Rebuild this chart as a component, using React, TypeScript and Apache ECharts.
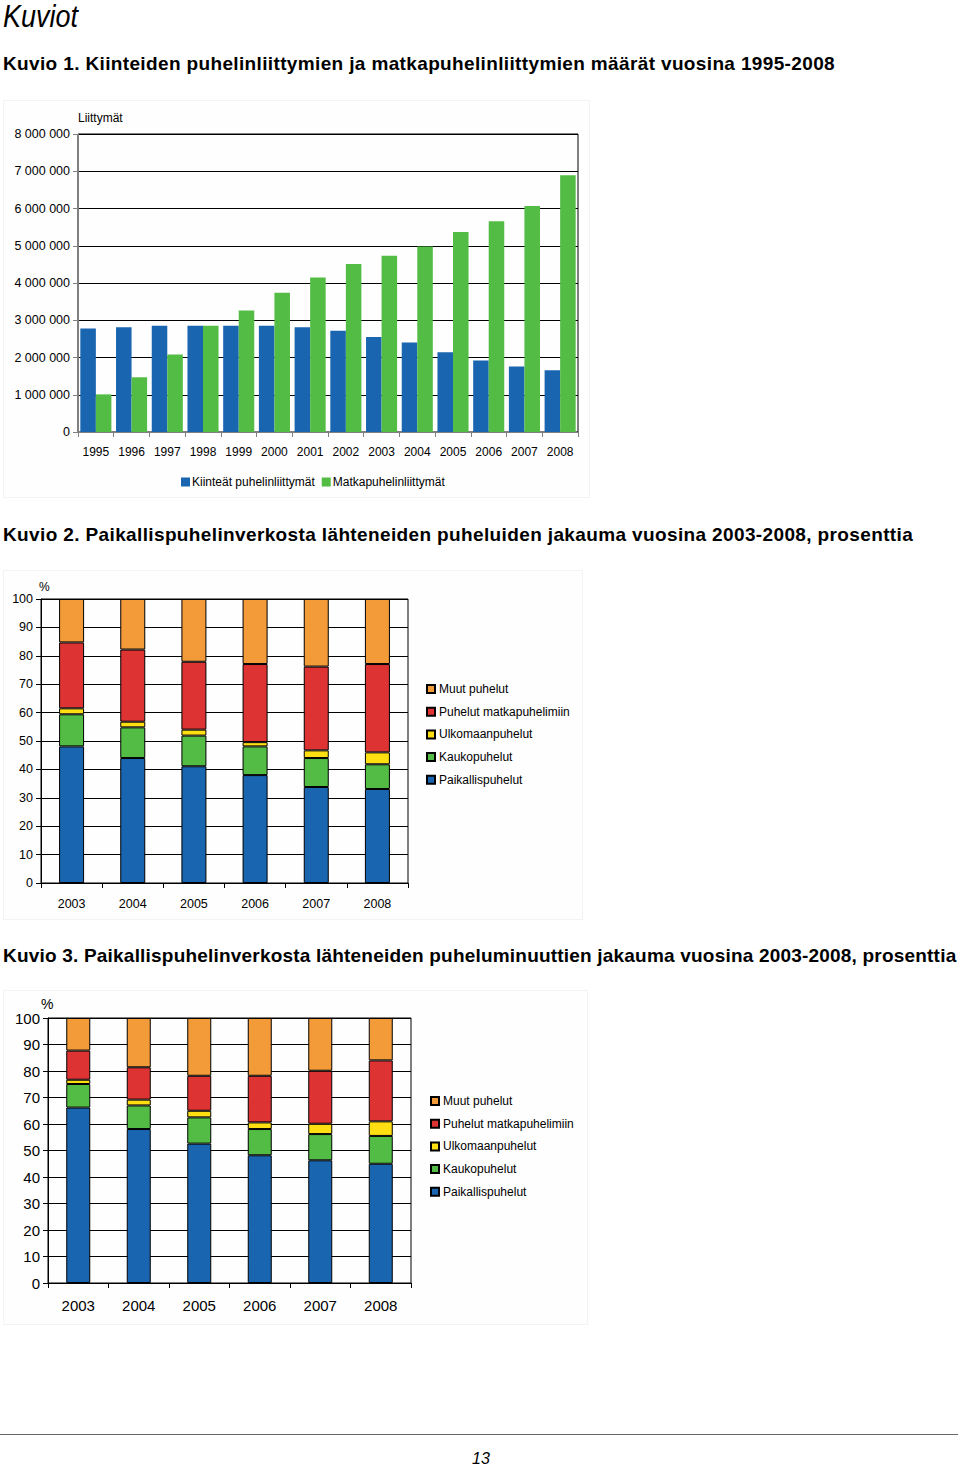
import React, { useEffect, useRef } from "react";
import * as echarts from "echarts";

const years1 = ["1995","1996","1997","1998","1999","2000","2001","2002","2003","2004","2005","2006","2007","2008"];
const fixedLines = [2780000,2810000,2850000,2850000,2850000,2850000,2810000,2720000,2550000,2400000,2140000,1920000,1760000,1660000];
const mobileLines = [1010000,1470000,2080000,2850000,3260000,3740000,4150000,4510000,4730000,4980000,5370000,5660000,6070000,6890000];
const legend1 = ["Kiinteät puhelinliittymät", "Matkapuhelinliittymät"];

const years2 = ["2003","2004","2005","2006","2007","2008"];
const seriesNames = ["Paikallispuhelut","Kaukopuhelut","Ulkomaanpuhelut","Puhelut matkapuhelimiin","Muut puhelut"];
// Kuvio 2: calls
const c2Local = [48.1,44.0,41.1,38.0,33.8,33.1];
const c2Long = [11.3,10.8,10.8,10.1,10.2,8.7];
const c2Intl = [2.1,2.0,2.1,1.5,2.7,4.2];
const c2Mobile = [23.2,25.4,23.9,27.5,29.5,31.1];
const c2Other = [15.3,17.8,22.1,22.9,23.8,22.9];
// Kuvio 3: minutes
const c3Local = [66.2,58.1,52.6,48.2,46.3,45.0];
const c3Long = [8.9,8.9,9.9,9.9,9.9,10.5];
const c3Intl = [1.6,2.2,2.5,2.5,3.9,5.5];
const c3Mobile = [11.0,12.2,13.2,17.6,20.0,23.0];
const c3Other = [12.3,18.6,21.8,21.8,19.9,16.0];

const BLUE = "#1a65b0";
const GREEN = "#53bc45";
const YELLOW = "#ffde12";
const RED = "#dd3333";
const ORANGE = "#f39b38";
const stackColors = [BLUE, GREEN, YELLOW, RED, ORANGE];

const FONT = "'Liberation Sans', Arial, sans-serif";

function fmtSpace(v: number) {
  return String(v).replace(/\B(?=(\d{3})+(?!\d))/g, " ");
}

function useChart(option: any) {
  const ref = useRef<HTMLDivElement>(null);
  useEffect(() => {
    if (!ref.current) return;
    const chart = echarts.init(ref.current, undefined, { renderer: "svg" });
    chart.setOption(option);
    return () => chart.dispose();
  }, []);
  return ref;
}

const option1 = {
  animation: false,
  textStyle: { fontFamily: FONT },
  grid: { left: 75, top: 34, right: 12, bottom: 66, show: true, borderColor: "#000", borderWidth: 1 },
  legend: {
    data: legend1,
    left: 173,
    top: 371,
    icon: "rect",
    itemWidth: 9,
    itemHeight: 9,
    itemGap: 7,
    textStyle: { fontSize: 12, color: "#000", fontFamily: FONT, padding: [0, 0, 0, -3] },
  },
  xAxis: {
    type: "category",
    data: years1,
    axisLine: { lineStyle: { color: "#808080", width: 1 } },
    axisTick: { show: true, length: 5, lineStyle: { color: "#808080" } },
    axisLabel: { color: "#000", fontSize: 12, margin: 14, fontFamily: FONT },
  },
  yAxis: {
    type: "value",
    min: 0,
    max: 8000000,
    interval: 1000000,
    name: "Liittymät",
    nameGap: 10,
    nameTextStyle: { align: "left", color: "#000", fontSize: 12, fontFamily: FONT },
    axisLine: { show: true, lineStyle: { color: "#808080" } },
    axisTick: { show: true, length: 5, lineStyle: { color: "#808080" } },
    axisLabel: { color: "#000", fontSize: 12.5, margin: 8, formatter: (v: number) => fmtSpace(v), fontFamily: FONT },
    splitLine: { lineStyle: { color: "#000", width: 1 } },
  },
  series: [
    { name: legend1[0], type: "bar", data: fixedLines, itemStyle: { color: BLUE }, barGap: "0%", barCategoryGap: "13%" },
    { name: legend1[1], type: "bar", data: mobileLines, itemStyle: { color: GREEN }, barGap: "0%", barCategoryGap: "13%" },
  ],
};

function stackedOption(
  data: number[][],
  opts: { grid: any; labelSize: number; legendLeft: number; legendTop: number; barWidth: number; labelMargin: number; nameSize: number; nameGap: number; namePad: number }
) {
  return {
    animation: false,
    textStyle: { fontFamily: FONT },
    grid: { ...opts.grid, show: true, borderColor: "#000", borderWidth: 1 },
    legend: {
      orient: "vertical",
      data: [...seriesNames].reverse(),
      left: opts.legendLeft,
      top: opts.legendTop,
      icon: "rect",
      itemWidth: 8,
      itemHeight: 8,
      itemGap: 10.7,
      textStyle: { fontSize: 12, color: "#000", fontFamily: FONT, padding: [0, 0, 0, -1] },
    },
    xAxis: {
      type: "category",
      data: years2,
      axisLine: { lineStyle: { color: "#000", width: 1 } },
      axisTick: { show: true, length: 5, lineStyle: { color: "#000" } },
      axisLabel: { color: "#000", fontSize: opts.labelSize, margin: opts.labelMargin, fontFamily: FONT },
    },
    yAxis: {
      type: "value",
      min: 0,
      max: 100,
      interval: 10,
      name: "%",
      nameGap: opts.nameGap,
      nameTextStyle: { align: "left", color: "#000", fontSize: opts.nameSize, fontFamily: FONT, padding: [0, 0, 0, opts.namePad] },
      axisLine: { show: true, lineStyle: { color: "#000" } },
      axisTick: { show: true, length: 5, lineStyle: { color: "#000" } },
      axisLabel: { color: "#000", fontSize: opts.labelSize, margin: 8, fontFamily: FONT },
      splitLine: { lineStyle: { color: "#000", width: 1 } },
    },
    series: seriesNames.map((n, i) => ({
      name: n,
      type: "bar",
      stack: "total",
      data: data[i],
      barWidth: opts.barWidth,
      itemStyle: { color: stackColors[i], borderColor: "#000", borderWidth: 1 },
    })),
  };
}

const option2 = stackedOption([c2Local, c2Long, c2Intl, c2Mobile, c2Other], {
  grid: { left: 38, top: 29, right: 175, bottom: 37 },
  labelSize: 12.5,
  legendLeft: 418,
  legendTop: 108,
  barWidth: 25,
  labelMargin: 14,
  nameSize: 12,
  nameGap: 6,
  namePad: -2,
});

const option3 = stackedOption([c3Local, c3Long, c3Intl, c3Mobile, c3Other], {
  grid: { left: 45, top: 28, right: 177, bottom: 42 },
  labelSize: 15,
  legendLeft: 422,
  legendTop: 100,
  barWidth: 24,
  labelMargin: 15,
  nameSize: 14,
  nameGap: 3,
  namePad: -7,
});

const titleStyle: React.CSSProperties = {
  position: "absolute",
  left: 3,
  fontFamily: FONT,
  fontWeight: "bold",
  fontSize: 19,
  color: "#000",
  whiteSpace: "nowrap",
  margin: 0,
  lineHeight: "20px",
};

const boxStyle: React.CSSProperties = {
  position: "absolute",
  background: "#fefefe",
  border: "1px solid #f3f3f3",
  boxSizing: "border-box",
};

const narrowItalic: React.CSSProperties = {
  fontFamily: "'Liberation Sans Narrow', 'Liberation Sans', Arial, sans-serif",
  fontStyle: "italic",
  color: "#000",
  whiteSpace: "nowrap",
};

export default function App() {
  const r1 = useChart(option1);
  const r2 = useChart(option2);
  const r3 = useChart(option3);
  return (
    <div style={{ position: "absolute", left: 0, top: 0, width: 960, height: 1467, background: "#fff", overflow: "hidden" }}>
      <div style={{ ...narrowItalic, position: "absolute", left: 3, top: 0, fontSize: 31, lineHeight: "34px", transform: "scaleX(0.87)", transformOrigin: "left top" }}>
        Kuviot
      </div>
      <div style={{ ...titleStyle, top: 54, letterSpacing: "0.36px" }}>
        Kuvio 1. Kiinteiden puhelinliittymien ja matkapuhelinliittymien määrät vuosina 1995-2008
      </div>
      <div style={{ ...boxStyle, left: 3, top: 100, width: 587, height: 398 }}>
        <div ref={r1} style={{ position: "absolute", left: -1, top: -1, width: 587, height: 398 }} />
      </div>
      <div style={{ ...titleStyle, top: 525, letterSpacing: "0.37px" }}>
        Kuvio 2. Paikallispuhelinverkosta lähteneiden puheluiden jakauma vuosina 2003-2008, prosenttia
      </div>
      <div style={{ ...boxStyle, left: 3, top: 570, width: 580, height: 350 }}>
        <div ref={r2} style={{ position: "absolute", left: -1, top: -1, width: 580, height: 350 }} />
      </div>
      <div style={{ ...titleStyle, top: 946, letterSpacing: "0.2px" }}>
        Kuvio 3. Paikallispuhelinverkosta lähteneiden puheluminuuttien jakauma vuosina 2003-2008, prosenttia
      </div>
      <div style={{ ...boxStyle, left: 3, top: 990, width: 585, height: 335 }}>
        <div ref={r3} style={{ position: "absolute", left: -1, top: -1, width: 585, height: 335 }} />
      </div>
      <div style={{ position: "absolute", left: 0, top: 1434, width: 958, height: 0, borderTop: "1px solid #666" }} />
      <div style={{ ...narrowItalic, position: "absolute", left: 0, top: 1449, width: 962, textAlign: "center", fontSize: 16, lineHeight: "20px" }}>
        13
      </div>
    </div>
  );
}
